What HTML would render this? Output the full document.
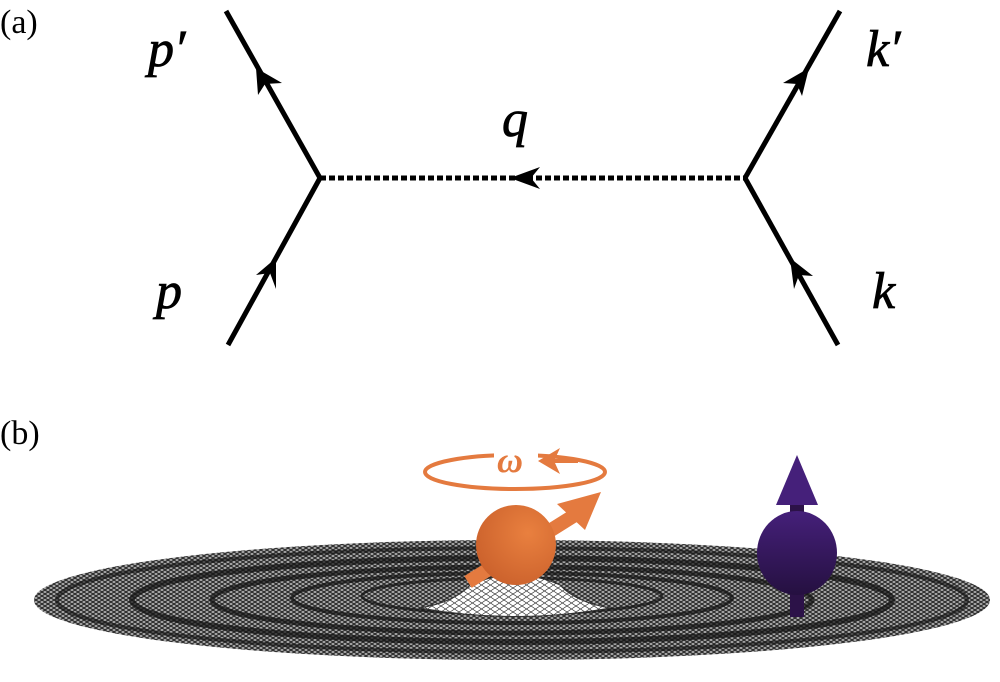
<!DOCTYPE html>
<html><head><meta charset="utf-8"><style>
html,body{margin:0;padding:0;background:#fff;}
svg{display:block;}
</style></head><body>
<svg width="1000" height="682" viewBox="0 0 1000 682" xmlns="http://www.w3.org/2000/svg">
<defs>
<pattern id="mesh" width="6" height="4" patternUnits="userSpaceOnUse">
<rect width="6" height="4" fill="#a8a8a8"/>
<path d="M0 0L6 4M6 0L0 4" stroke="#222" stroke-width="1"/>
</pattern>
<pattern id="mesh2" width="9" height="6" patternUnits="userSpaceOnUse">
<rect width="9" height="6" fill="#fff"/>
<path d="M0 0L9 6M9 0L0 6" stroke="#333" stroke-width="0.7"/>
</pattern>
<radialGradient id="og" cx="0.65" cy="0.35" r="0.8">
<stop offset="0" stop-color="#e9803f"/><stop offset="1" stop-color="#c85e2a"/>
</radialGradient>
<linearGradient id="pg" x1="0" y1="0" x2="0" y2="1">
<stop offset="0" stop-color="#45207a"/><stop offset="1" stop-color="#251040"/>
</linearGradient>
</defs>
<g font-family="Liberation Serif, serif" font-size="34">
<text x="0" y="33">(a)</text>
<text x="0" y="444">(b)</text>
</g>
<g stroke="#000" stroke-width="5" fill="none">
<line x1="226" y1="11" x2="320" y2="178"/>
<line x1="320" y1="178" x2="228" y2="345"/>
<line x1="840" y1="11" x2="745" y2="178"/>
<line x1="745" y1="178" x2="838" y2="345"/>
<line x1="320" y1="178" x2="745" y2="178" stroke-dasharray="6,3" stroke-width="5"/>
</g>
<g fill="#000">
<polygon points="256,68 258,95 265,84 282,83"/>
<polygon points="276,258 256,275 270,273 276,289"/>
<polygon points="809,68 783,83 797,84 802,96"/>
<polygon points="790,258 794,289 799,275 813,276"/>
<polygon points="510,178 540,167 531,178 540,189"/>
</g>
<g font-family="Liberation Serif, serif" font-style="italic" font-size="52" stroke="#000" stroke-width="0.8">
<text x="148" y="66">p′</text>
<text x="502" y="136">q</text>
<text x="866" y="66">k′</text>
<text x="156" y="308">p</text>
<text x="872" y="308">k</text>
</g>
<!-- disc -->
<ellipse cx="512" cy="600" rx="478" ry="60" fill="url(#mesh)"/>
<g fill="none" stroke="#111">
<ellipse cx="512" cy="600" rx="455" ry="52" stroke-width="4" opacity="0.6"/>
<ellipse cx="512" cy="600" rx="380" ry="42" stroke-width="6" opacity="0.7"/>
<ellipse cx="512" cy="600" rx="300" ry="33" stroke-width="5" opacity="0.7"/>
<ellipse cx="512" cy="598" rx="220" ry="25" stroke-width="4" opacity="0.7"/>
<ellipse cx="512" cy="596" rx="150" ry="18" stroke-width="3" opacity="0.7"/>
</g>
<path d="M420 608 Q455 602 470 585 Q515 565 560 585 Q575 602 610 608 Q515 625 420 608Z" fill="url(#mesh2)" stroke="#333" stroke-width="1"/>
<!-- orange -->
<ellipse cx="515" cy="472" rx="90" ry="17" fill="none" stroke="#e47a3f" stroke-width="4"/>
<rect x="494" y="446" width="44" height="28" fill="#fff"/>
<text x="497" y="472" font-family="Liberation Serif, serif" font-style="italic" font-weight="bold" font-size="36" fill="#e47a3f">ω</text>
<polygon points="538,461 560,448 555,459 578,459 578,463 555,463 560,474" fill="#e47a3f"/>
<line x1="468" y1="582" x2="575" y2="515" stroke="#e47a3f" stroke-width="14"/>
<polygon points="601,492 557,504 585,530" fill="#e47a3f"/>
<circle cx="516" cy="545" r="40" fill="url(#og)"/>
<!-- purple -->
<rect x="790" y="495" width="14" height="122" fill="#2c1248"/>
<polygon points="797,455 776,505 818,505" fill="#45207a"/>
<ellipse cx="797" cy="553" rx="40" ry="42" fill="url(#pg)"/>
</svg>
</body></html>
